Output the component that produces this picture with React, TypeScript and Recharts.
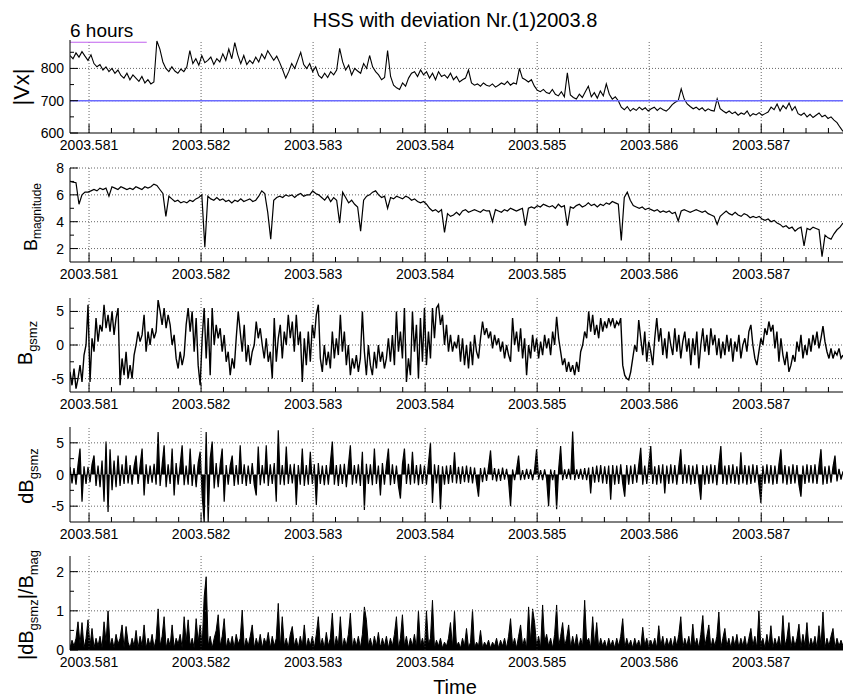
import React from 'react';
import { ComposedChart, Line, Area, XAxis, YAxis, ReferenceLine } from 'recharts';

const FONT = '"Liberation Sans", Arial, sans-serif';

// time axis (fraction of year)
const T_START = 2003.58083;
const T_END = 2003.58773;
const SIX_HOURS = 6 / (24 * 365);
const timeLabels = [2003.581, 2003.582, 2003.583, 2003.584, 2003.585, 2003.586, 2003.587];

// |Vx| km/s
const vxValues = [
  840, 830, 848, 835, 852, 838, 825, 842, 815, 805,
  812, 795, 805, 790, 800, 785, 795, 778, 770, 785,
  765, 780, 770, 760, 775, 755, 765, 752, 758, 885,
  860, 820, 800, 790, 805, 792, 785, 798, 790, 805,
  855, 815, 830, 810, 840, 818, 825, 835, 812, 830,
  820, 845, 825, 860, 830, 880, 842, 815, 840, 812,
  825, 815, 835, 820, 845, 830, 855, 840, 825, 838,
  818, 795, 770, 790, 815, 800, 825, 850, 812, 800,
  815, 790, 805, 778, 770, 785, 772, 790, 780, 795,
  862, 820, 795, 810, 780, 800, 792, 785, 815, 800,
  840, 805, 790, 780, 765, 772, 855, 775, 748, 740,
  735, 755, 745, 770, 785, 790, 775, 795, 780, 790,
  770, 785, 765, 790, 775, 780, 770, 785, 765, 775,
  758, 765, 770, 795, 755, 748, 752, 745, 755, 748,
  745, 752, 742, 748, 755, 750, 760, 748, 755, 752,
  800, 770, 765, 758, 765, 745, 732, 728, 735, 725,
  722, 735, 720, 715, 728, 712, 786, 718, 710, 705,
  720, 710, 728, 745, 712, 725, 708, 730, 715, 752,
  720, 705, 712, 700, 680, 672, 682, 668, 676, 670,
  680, 672, 678, 668, 675, 680, 670, 678, 672, 668,
  676, 688, 695, 700, 737, 705, 690, 682, 675, 680,
  672, 678, 668, 675, 670, 668, 706, 675, 668, 662,
  668, 660, 665, 655, 662, 658, 668, 652, 660, 656,
  663, 655, 660, 665, 680, 672, 690, 668, 685, 675,
  693, 670, 682, 660, 655, 662, 650, 658, 648, 655,
  662, 650, 655, 645, 650, 640, 632, 618, 605,
];

// B magnitude nT
const bMagValues = [
  7.0, 6.95, 6.9, 5.3, 6.0, 6.2, 6.2, 6.3, 6.4, 6.3,
  6.5, 6.4, 6.5, 5.9, 6.6, 6.5, 6.4, 6.6, 6.5, 6.4,
  6.5, 6.4, 6.6, 6.5, 6.4, 6.6, 6.5, 6.6, 6.8, 6.7,
  6.4, 6.1, 4.4, 5.9, 5.7, 5.5, 5.6, 5.4, 5.5, 5.4,
  5.6, 5.5, 5.7, 5.8, 6.0, 2.1, 5.9, 5.7, 5.6, 5.8,
  5.6, 5.7, 5.5, 5.6, 5.4, 5.6, 5.5, 5.7, 5.5, 5.6,
  5.7, 5.5, 5.6, 5.9, 6.3, 6.1, 4.7, 2.7, 5.6, 5.8,
  5.9, 5.8, 6.0, 5.9, 6.0, 5.8, 6.0, 6.1, 5.9, 6.0,
  6.0, 6.3, 6.1, 6.0, 5.8, 5.6, 5.9, 5.5, 5.8, 5.6,
  3.9, 6.2, 5.8, 5.4, 5.6, 5.3, 5.1, 3.3, 5.6, 5.9,
  6.0, 6.2, 6.3, 6.0, 5.8, 5.9, 5.0, 5.8, 5.7, 5.9,
  5.8, 5.7, 5.9, 5.8, 5.6, 5.7, 5.5, 5.4, 5.5, 5.3,
  5.0, 4.8, 4.9, 4.7, 4.9, 3.2, 4.6, 4.4, 4.5, 4.7,
  4.5, 4.8, 4.9, 4.7, 4.8, 4.9, 4.8, 4.7, 4.9, 4.8,
  4.8, 4.0, 4.9, 4.8, 4.7, 4.9, 4.8, 5.0, 4.9, 4.8,
  4.9, 5.0, 3.7, 5.0, 5.1, 5.0, 5.2, 5.1, 5.3, 5.2,
  5.1, 5.2, 5.0, 5.3, 5.1, 5.2, 3.7, 5.1, 5.0, 5.2,
  5.3, 5.1, 5.2, 5.4, 5.2, 5.3, 5.1, 5.3, 5.2, 5.4,
  5.3, 5.5, 5.4, 5.3, 2.6, 5.8, 6.2, 5.6, 5.2, 5.1,
  5.0, 5.1, 4.9, 5.0, 4.9, 4.8, 4.9, 4.7, 4.8, 4.7,
  4.8, 4.6, 4.7, 4.05, 4.8, 4.9, 4.8, 4.7, 4.8, 4.9,
  4.8, 4.7, 4.8, 4.6, 4.5, 4.4, 3.8, 4.4, 4.6, 4.8,
  4.6, 4.5, 4.7, 4.5, 4.4, 4.6, 4.5, 4.3, 4.4, 4.3,
  4.4, 4.2, 4.1, 4.2, 4.0, 4.1, 3.9, 3.8, 3.6, 3.7,
  3.5, 3.6, 3.3, 3.5, 3.6, 2.2, 3.5, 3.4, 3.6, 3.5,
  3.4, 1.4, 3.0, 2.8, 2.7, 3.1, 3.4, 3.6, 3.9,
];

// B gsm z nT
const bzValues = [
  -4, -6, -3.5, -6.5, -5, -3, -5.5, -1.5, 0, 6,
  -5.5, 1, -1, 4, 0.5, 3, 2, 6, 2.5, 4.5,
  2, 5, 1.5, 4, 5.5, -6, -2, -4.5, -1, -5,
  -3, -5, -1.5, 0, 2, 0.5, 1.5, 4.5, -1, 2,
  0, 2.5, 1, 2, 6.7, 5, 3, 5.5, 2.5, 4.5,
  3, 0, 1.5, -2, -3.5, -1, -3, -1.5, 3, 5.5,
  2, 5, -1, 4, -3, -6, 1, 5.5, -2, 4,
  -4.5, 5.5, 0, 3, 1, 2.5, -1, 1.5, -2.5, -1,
  -4.5, -2, -3.5, 1, 5, 2, -1, 3, -2.5, 0,
  -3, -1, 0, 3.5, 1, 2.5, 0, -2, 1, -2.5,
  -1, -5, 4, -2.5, 1, 3, -2, 2, 0, 4.5,
  1, 3.5, -1, 4.5, 0, 2, -5.5, 1, -3, 2,
  -2.5, 3, 1, 4.5, 6, -2, -4, 0, -3, -1,
  -3.5, 2, -2, 1, -1.5, 4.5, -1, 2, -3, 0,
  -4.5, -2, -3.5, -1.5, -4, -2, 5, -1, -4.5, 0,
  -3, -4.5, -1, -3.5, 0, -2.5, -1, -3.5, -2, 1,
  -2.5, 1.5, -3, 5, -1, 2, -2, 5.5, -5.5, -2,
  -4.5, 5, -1, 3, -5, 4, -2.5, 5.5, -3, 2,
  -2, 5.5, 1, 5.5, 6, 3, 4.5, 0, 3, -1,
  1.5, -1, 0.5, -0.5, 1.5, -2.5, 1, -3, 0, -3.5,
  0.5, -3, 1.5, -1, -2, 1, 3.5, 1.5, 2.5, 1,
  2, -0.5, 1.5, 0, 1, -1, 0.5, -2, 0, -1.5,
  -2.5, 4, 0, 2, -1, 2.5, -2, 1, -4.5, 0,
  -2, 1.5, -1, 1, -2, 0.5, -1.5, 1.5, -0.5, 1,
  -1.5, 2, 0, 4.2, 1, -1, -3, -2, -4, -2.5,
  -4, -3, -4.5, -2.5, -4, -1, 0, 2, 1, 5,
  2, 4.5, 1.5, 3, 1, 4, 2, 3.5, 2.5, 4,
  3, 4, 2.5, 3.5, 3, 4, -3, -4.5, -5, -5.2,
  -4, -2, 0, -1, 3.7, 1, -1.5, 2, -2.5, 0.5,
  -1, -3, 1, 4, 0.5, 2.5, -1.5, 1, -2, 2,
  0, -1.5, 2.5, -1, 1.5, -2, 0.5, 2, -1, 1,
  -3, 1, -1.5, 2, -3.5, 0, 2.5, -1, 1.5, -1.5,
  2.5, 0, 1.5, -1.5, 1, -2, 0.5, -1.5, 1.5, -1,
  1, -2.5, 0.5, -1, 1.5, -2, 0, 1, -1, 2,
  3, 0, -2, -3, -1, 1, 0, 2.5, 1.5, 3.5,
  2, 3, -0.5, 2, -2.5, 1, -1.5, -3, -1, -4,
  -3, -1.5, -2.5, 0.5, -1, 1.5, -2, 0, -1.5, 1,
  -1, 1.5, 0, 2, -0.5, 1, 2.8, 0.5, -1, -2,
  -0.5, -2, -1, -1.5, -0.5, -2, -1.5,
];

// dB gsm z nT
const dbzValues = [
  1.2, -1.4, 1.0, -1.6, 1.5, 4.1, -4.3, 1.3, -1.5, 1.2,
  -1.2, 1.6, 3, -1.8, 1.4, -2, 2.2, -4.3, 5.2, -5.9,
  4, -2.5, 2.2, -2, 3, -1.8, 1.6, -1.5, 3, -1.4,
  1.5, -1.6, 1.3, 3, -1.5, 1.4, 4.1, -3.3, 1.6, -1.5,
  1.4, -1.3, 1.7, -1.6, 6.7, -1.8, 1.5, 4.6, -2, 1.6,
  -1.5, 4.1, -3.3, 1.8, -1.6, 1.5, 4.6, -1.7, 1.4, -1.6,
  4.1, -1.8, 1.6, -2, 1.8, 3.6, -3.3, -7.5, 6.7, -7.5,
  2.5, 5.2, -2.2, 1.8, -2, 1.6, 4.1, -4.3, 1.5, -1.6,
  1.4, 3, -1.8, 1.5, -1.6, 4.6, -1.5, 1.6, -1.8, 1.4,
  -1.5, 1.8, -1.6, -3.3, 4.4, -1.7, 1.5, -1.4, 4.6, -1.8,
  1.6, -1.5, 1.8, -4.3, 7, -1.6, 1.5, -1.7, 4.4, -1.5,
  1.6, -1.4, 1.7, -4.8, 1.5, -1.6, 4.1, -1.8, 1.5, -1.6,
  3.6, -1.5, 1.6, -4.8, 1.8, -1.5, 1.4, -1.7, 1.5, -1.6,
  1.8, 5.2, -1.6, 1.5, -1.8, 1.6, -1.5, 1.7, -2, 1.4,
  4.6, -1.6, 1.5, -1.4, 1.6, -1.8, 3.6, -5.6, 1.7, -1.5,
  1.6, -1.7, 4.1, -1.5, 1.4, -3.3, 1.8, -1.6, 1.5, 4.1,
  -1.7, 1.6, -1.5, 1.4, -1.8, -3.8, 1.6, 4.1, -1.5, 1.7,
  -1.6, 3.6, -1.4, 1.5, -1.7, 1.6, -1.5, 1.4, -1.6, 1.8,
  5, -4.5, 1.6, -1.4, 1.5, -5.5, 1.3, -1.6, 1.4, -1.5,
  1.5, -1.3, 3.5, -1.4, 1.2, -1.5, 1.3, -1.2, 1.4, -1.3,
  1.2, -1.4, 1.1, -1.3, -3.5, 1.0, -1.2, 1.1, -1.0, 1.2,
  3.8, -0.9, 1.0, -1.1, 0.9, -1.0, 1.1, -0.8, 0.9, -1.0,
  -5, 0.8, -0.9, 0.8, 3, -0.9, 0.7, -0.8, 0.9, -0.7,
  0.8, -0.9, 0.8, 4, -0.8, 0.7, -0.9, 0.8, -0.7, -5,
  0.8, -0.9, 0.7, -5.5, 0.8, 4.5, -0.9, 0.8, -0.7, 0.9,
  -0.8, 6.8, -0.9, 0.8, -0.7, 0.9, -0.8, 1.0, -0.9, 1.1,
  -3, 1.2, -1.3, 1.4, -1.2, 1.5, -1.4, 1.3, -1.5, 1.4,
  -4, 1.5, -1.6, 1.4, -1.5, 1.6, -1.4, -3.5, 1.5, -1.6,
  1.4, -1.5, 1.6, -1.3, 1.5, 4.2, -1.6, 1.4, -1.5, 1.6,
  4.5, -1.5, 1.3, -1.6, 1.5, -1.4, 1.6, -3, 1.4, -1.5,
  1.6, -1.4, 1.5, -1.6, 1.3, 4, -1.5, 1.6, -1.4, 1.5,
  -1.6, 1.4, -1.5, 1.6, -1.3, -4, 1.5, -1.6, 1.4, -1.5,
  1.6, -1.4, 1.5, -1.7, 1.6, 4.5, -1.5, 1.4, -1.6, 1.5,
  -1.4, 1.6, -1.5, 1.3, -1.6, 3.5, -1.4, 1.5, -1.6, 1.4,
  -1.5, 1.6, -1.3, 1.5, -1.6, -4.5, 1.4, -1.5, 1.6, -1.4,
  1.5, -1.6, 1.4, -1.5, 1.6, 4, -1.4, 1.5, -1.6, 1.3,
  -1.5, 1.6, -1.4, 1.5, -1.6, -3.5, 1.4, -1.5, 1.6, -1.3,
  1.5, -1.4, 1.6, -1.5, 1.4, 4, -1.6, 1.3, -1.5, 1.4,
  -1.3, 1.2, 3, -1.1, 0.9, -0.8, 0.5,
];

// |dB gsm z| / B mag
const ratioValues = [
  0.05, 0.25, 0.1, 0.3, 0.72, 0.15, 0.7, 0.05, 0.3, 0.77,
  0.1, 0.55, 0.05, 0.3, 0.1, 0.35, 0.05, 0.72, 0.2, 1.0,
  0.1, 0.3, 0.05, 0.4, 0.15, 0.3, 0.64, 0.05, 0.6, 0.2,
  0.05, 0.3, 0.1, 0.5, 0.05, 0.35, 0.1, 0.64, 0.05, 0.3,
  0.1, 0.4, 0.05, 0.3, 1.05, 0.1, 0.35, 0.85, 0.05, 0.3,
  0.1, 0.64, 0.05, 0.3, 0.15, 0.4, 0.05, 0.85, 0.2, 0.77,
  0.1, 0.3, 0.05, 0.8, 0.2, 0.64, 0.1, 1.36, 1.87, 0.1,
  0.35, 0.05, 0.3, 0.5, 0.9, 0.1, 0.35, 0.8, 0.05, 0.3,
  0.1, 0.35, 0.05, 0.4, 0.15, 0.3, 1.02, 0.05, 0.3, 0.1,
  0.35, 0.64, 0.05, 0.3, 0.1, 0.4, 0.05, 0.3, 0.15, 0.45,
  0.05, 0.35, 0.1, 0.3, 1.19, 0.05, 0.85, 0.1, 0.3, 0.05,
  0.4, 0.6, 0.1, 0.3, 0.05, 0.35, 0.1, 0.64, 0.05, 0.3,
  0.1, 0.35, 0.05, 0.4, 0.85, 0.1, 0.3, 0.05, 0.45, 0.1,
  0.3, 0.94, 0.05, 0.35, 0.1, 0.85, 0.05, 0.3, 0.1, 0.4,
  0.94, 0.05, 0.3, 0.1, 0.35, 0.05, 0.4, 1.1, 0.77, 0.1,
  0.3, 0.05, 0.35, 0.1, 0.45, 0.05, 0.3, 0.1, 0.35, 0.05,
  0.3, 0.1, 0.4, 0.85, 0.05, 0.3, 0.9, 0.1, 0.35, 0.05,
  0.3, 0.1, 0.4, 0.05, 1.0, 0.1, 0.3, 0.05, 1.0, 0.15,
  0.3, 1.27, 0.05, 0.25, 0.1, 0.3, 0.05, 0.2, 0.1, 0.3,
  0.7, 0.05, 1.0, 0.1, 0.2, 0.05, 0.3, 0.1, 0.55, 0.05,
  0.2, 1.03, 0.05, 0.2, 0.1, 0.5, 0.05, 0.2, 0.1, 0.25,
  0.05, 0.2, 0.1, 0.3, 0.05, 0.25, 0.1, 0.3, 0.05, 0.35,
  0.8, 0.1, 0.3, 0.05, 0.35, 0.64, 0.1, 0.3, 0.05, 1.1,
  0.2, 1.05, 0.7, 0.1, 0.35, 0.05, 1.15, 0.2, 0.4, 0.1,
  0.3, 0.05, 0.4, 1.15, 0.1, 0.35, 0.7, 0.1, 0.3, 0.64,
  0.05, 0.35, 0.1, 0.4, 0.05, 0.3, 0.1, 1.27, 0.2, 0.3,
  0.05, 0.85, 0.1, 0.7, 0.05, 0.3, 0.1, 0.25, 0.05, 0.3,
  0.1, 0.25, 0.05, 0.3, 0.1, 0.35, 0.8, 0.05, 0.3, 0.1,
  0.25, 0.05, 0.3, 0.1, 0.25, 0.05, 0.58, 0.1, 0.3, 0.05,
  0.25, 0.1, 0.3, 0.05, 0.62, 0.1, 0.35, 0.05, 0.3, 0.1,
  0.3, 0.05, 0.35, 0.1, 0.4, 0.85, 0.05, 0.3, 0.1, 0.35,
  0.05, 0.66, 0.1, 0.3, 0.05, 0.4, 0.88, 0.1, 0.35, 0.64,
  0.05, 0.3, 0.1, 0.35, 0.97, 0.05, 0.3, 0.55, 0.1, 0.3,
  0.05, 0.35, 0.1, 0.4, 0.05, 0.3, 0.1, 0.35, 0.05, 0.3,
  0.55, 0.1, 0.35, 0.05, 1.0, 0.1, 0.3, 0.05, 0.4, 0.1,
  0.62, 0.05, 0.3, 0.1, 0.35, 0.05, 0.88, 0.1, 0.3, 0.7,
  0.05, 0.35, 0.1, 0.3, 0.66, 0.05, 0.4, 0.1, 0.7, 0.05,
  0.3, 0.1, 0.35, 0.05, 0.62, 0.1, 0.97, 0.05, 0.3, 0.1,
  0.35, 0.55, 0.05, 0.3, 0.1, 0.25, 0.1,
];

const toSeries = (values: number[]) =>
  values.map((v, i) => ({ t: T_START + (i * (T_END - T_START)) / (values.length - 1), v }));

// tick every 0.0002, labels every 0.001
const xTicks: number[] = [];
for (let k = 0; k <= 33; k++) xTicks.push(Math.round((2003.581 + k * 0.0002) * 1e4) / 1e4);

const XTick = (props: any) => {
  const { x, y, payload } = props;
  const v = payload.value as number;
  const major = Math.abs(v * 1000 - Math.round(v * 1000)) < 1e-3;
  return (
    <g>
      <line x1={x} x2={x} y1={y} y2={y - (major ? 9 : 5)} stroke="#000" />
      {major && (
        <text x={x} y={y + 17} textAnchor="middle" fontSize={14} fontFamily={FONT} fill="#000">
          {v.toFixed(3)}
        </text>
      )}
    </g>
  );
};

const makeYTick = (majors: number[]) => (props: any) => {
  const { x, y, payload } = props;
  const major = majors.includes(payload.value);
  return (
    <g>
      <line x1={x} x2={x + (major ? 8 : 4)} y1={y} y2={y} stroke="#000" />
      {major && (
        <text x={x - 6} y={y + 5} textAnchor="end" fontSize={14} fontFamily={FONT} fill="#000">
          {payload.value}
        </text>
      )}
    </g>
  );
};

interface PanelProps {
  values: number[];
  top: number;
  height: number;
  domain: [number, number];
  majors: number[];
  minors: number[];
  width?: number;
  filled?: boolean;
  extra?: React.ReactNode;
}

const PAD = 10;

const Panel: React.FC<PanelProps> = ({ values, top, height, domain, majors, minors, width = 1, filled, extra }) => {
  const data = toSeries(values);
  const yTicks = [...majors, ...minors].sort((a, b) => a - b);
  return (
    <div style={{ position: 'absolute', left: 0, top: top - PAD }}>
      <ComposedChart width={843} height={height + 30 + PAD} data={data} margin={{ top: PAD, right: 0, bottom: 0, left: 0 }}>
        <XAxis
          dataKey="t"
          type="number"
          domain={[T_START, T_END]}
          allowDataOverflow
          ticks={xTicks}
          interval={0}
          tick={<XTick />}
          tickLine={false}
          tickSize={0}
          tickMargin={0}
          height={30}
          axisLine={{ stroke: '#000' }}
        />
        <YAxis
          type="number"
          domain={domain}
          allowDataOverflow
          ticks={yTicks}
          interval={0}
          tick={makeYTick(majors)}
          tickLine={false}
          tickSize={0}
          tickMargin={0}
          width={70}
          axisLine={{ stroke: '#000' }}
        />
        {timeLabels.map((t) => (
          <ReferenceLine key={'x' + t} x={t} stroke="#666" strokeDasharray="1 2" />
        ))}
        {majors
          .filter((m) => m !== domain[0])
          .map((m) => (
            <ReferenceLine key={'y' + m} y={m} stroke="#666" strokeDasharray="1 2" />
          ))}
        {filled ? (
          <Area
            type="linear"
            dataKey="v"
            baseValue={0}
            stroke="#000"
            strokeWidth={width}
            fill="#000"
            fillOpacity={1}
            dot={false}
            activeDot={false}
            isAnimationActive={false}
          />
        ) : (
          <Line type="linear" dataKey="v" stroke="#000" strokeWidth={width} dot={false} isAnimationActive={false} />
        )}
        {extra}
      </ComposedChart>
    </div>
  );
};

const sub = (s: string, size: number, dy: number) => (
  <tspan fontSize={size} dy={dy}>
    {s}
  </tspan>
);

export default function App() {
  return (
    <div style={{ position: 'absolute', left: 0, top: 0, width: 843, height: 700, background: '#fff', overflow: 'hidden' }}>
      <Panel
        values={vxValues}
        top={40}
        height={93}
        domain={[600, 888]}
        majors={[600, 700, 800]}
        minors={[650, 750, 850]}
        width={1.1}
        extra={[
          <ReferenceLine key="v700" y={700} stroke="#6b6bff" strokeWidth={1.5} />,
          <ReferenceLine
            key="six"
            segment={[
              { x: T_START, y: 881 },
              { x: T_START + SIX_HOURS, y: 881 },
            ]}
            stroke="#c062ee"
            strokeWidth={1.2}
          />,
        ]}
      />
      <Panel values={bMagValues} top={168} height={94} domain={[1, 8]} majors={[2, 4, 6, 8]} minors={[3, 5, 7]} width={1.2} />
      <Panel values={bzValues} top={298} height={94} domain={[-7, 7]} majors={[-5, 0, 5]} minors={[-2.5, 2.5]} width={1.4} />
      <Panel values={dbzValues} top={427} height={95} domain={[-7.5, 7.5]} majors={[-5, 0, 5]} minors={[-2.5, 2.5]} width={1.2} filled />
      <Panel values={ratioValues} top={556} height={94} domain={[0, 2.4]} majors={[0, 1, 2]} minors={[0.5, 1.5]} width={1} filled />

      <svg width={843} height={700} style={{ position: 'absolute', left: 0, top: 0, pointerEvents: 'none' }} fontFamily={FONT}>
        <text x={455} y={27} textAnchor="middle" fontSize={20}>
          HSS with deviation Nr.(1)2003.8
        </text>
        <text x={70} y={37} fontSize={19}>
          6 hours
        </text>
        <text x={455} y={694} textAnchor="middle" fontSize={20}>
          Time
        </text>
        <text x={29} y={87} transform="rotate(-90 29 87)" textAnchor="middle" fontSize={22}>
          |Vx|
        </text>
        <text x={37} y={217} transform="rotate(-90 37 217)" textAnchor="middle" fontSize={18}>
          B{sub('magnitude', 12, 4)}
        </text>
        <text x={32} y={343} transform="rotate(-90 32 343)" textAnchor="middle" fontSize={20}>
          B{sub('gsmz', 13, 5)}
        </text>
        <text x={33} y={476} transform="rotate(-90 33 476)" textAnchor="middle" fontSize={20}>
          dB{sub('gsmz', 13, 5)}
        </text>
        <text x={33} y={605} transform="rotate(-90 33 605)" textAnchor="middle" fontSize={20}>
          |dB{sub('gsmz', 13, 5)}
          <tspan dy={-5}>|/B</tspan>
          {sub('mag', 13, 5)}
        </text>
      </svg>
    </div>
  );
}
